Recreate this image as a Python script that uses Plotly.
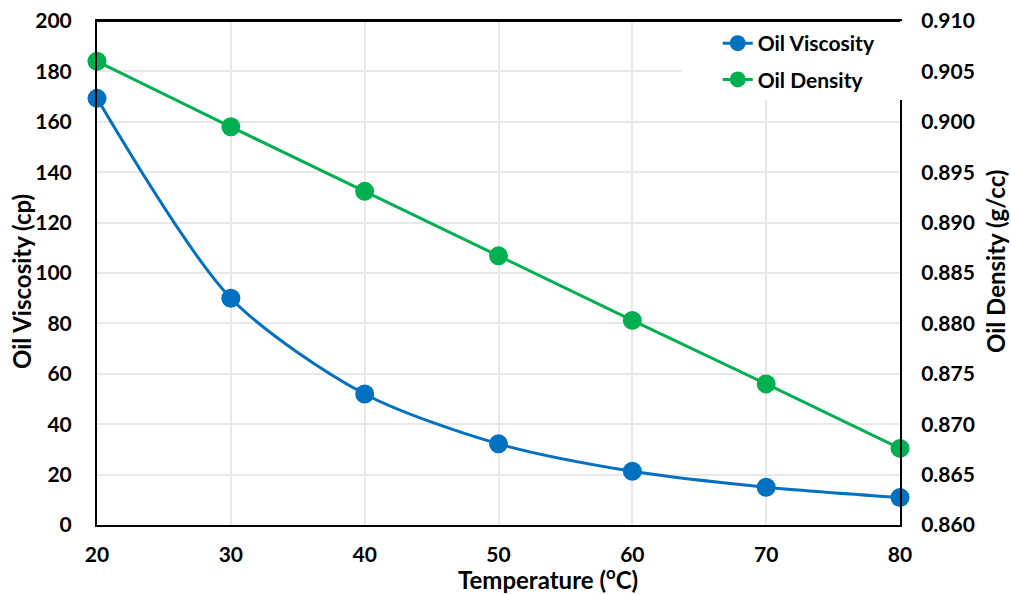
import plotly.graph_objects as go

# Temperature sweep and measured oil properties
temperature_c = [20, 30, 40, 50, 60, 70, 80]
oil_viscosity_cp = [169.3, 90.0, 52.0, 32.2, 21.3, 15.0, 10.9]
oil_density_gcc = [0.9060, 0.8995, 0.8931, 0.8867, 0.8803, 0.8740, 0.8676]

viscosity_ticks = [0, 20, 40, 60, 80, 100, 120, 140, 160, 180, 200]
density_ticks = [0.860, 0.865, 0.870, 0.875, 0.880, 0.885, 0.890, 0.895, 0.900, 0.905, 0.910]

BLUE = "#0070C0"
GREEN = "#00B050"
FONT = "Lato"

# plot-area geometry in pixels (used to place titles in paper coords)
PL, PR, PT, PB = 97, 900, 21, 525


def px_x(x):
    return (x - PL) / (PR - PL)


def px_y(y):
    return (PB - y) / (PB - PT)


fig = go.Figure()

fig.add_trace(go.Scatter(
    x=temperature_c, y=oil_viscosity_cp, name="Oil Viscosity",
    mode="lines+markers", legendgroup="visc",
    line=dict(color=BLUE, width=3, shape="spline", smoothing=0.8),
    marker=dict(color=BLUE, size=19),
    cliponaxis=False,
))
fig.add_trace(go.Scatter(
    x=temperature_c, y=oil_density_gcc, name="Oil Density",
    mode="lines+markers", yaxis="y2", legendgroup="dens",
    line=dict(color=GREEN, width=3),
    marker=dict(color=GREEN, size=19),
    cliponaxis=False,
))

tick_font = dict(family=FONT, size=21, color="#000000", weight="bold")
title_font = dict(family=FONT, size=24, color="#000000", weight="bold")

fig.update_layout(
    width=1011, height=595,
    margin=dict(l=PL, r=1011 - PR, t=PT, b=595 - PB, autoexpand=False),
    paper_bgcolor="white", plot_bgcolor="white",
    font=dict(family=FONT, color="#000000"),
    showlegend=True,
    legend=dict(
        x=0.773, y=0.996, xanchor="left", yanchor="top",
        bgcolor="rgba(0,0,0,0)",
        font=dict(family=FONT, size=21, color="#000000", weight="bold"),
        tracegroupgap=6, itemsizing="trace",
    ),
    xaxis=dict(
        range=[20, 80], tickvals=temperature_c, showgrid=True,
        gridcolor="#E8E8E8", gridwidth=1.5, automargin=False,
        showline=True, linecolor="#000000", linewidth=2, mirror=True,
        ticks="", tickfont=tick_font, ticklabelstandoff=10,
        zeroline=False,
    ),
    yaxis=dict(
        range=[0, 200], tickvals=viscosity_ticks, showgrid=True,
        gridcolor="#E8E8E8", gridwidth=1.5, automargin=False,
        showline=True, linecolor="#000000", linewidth=2,
        ticks="", tickfont=tick_font, ticklabelstandoff=19,
        zeroline=False,
    ),
    yaxis2=dict(
        range=[0.860, 0.910], tickvals=density_ticks, tickformat=".3f",
        overlaying="y", side="right", showgrid=False, automargin=False,
        showline=True, linecolor="#000000", linewidth=2,
        ticks="", tickfont=tick_font, ticklabelstandoff=15,
        zeroline=False,
    ),
    annotations=[
        dict(text="Temperature (<sup>o</sup>C)", xref="paper", yref="paper",
             x=px_x(548), y=px_y(578), xanchor="center", yanchor="middle",
             showarrow=False, font=title_font, borderpad=0),
        dict(text="Oil Viscosity (cp)", xref="paper", yref="paper",
             x=px_x(22), y=px_y(282), xanchor="center", yanchor="middle",
             textangle=-90, showarrow=False, font=title_font),
        dict(text="Oil Density (g/cc)", xref="paper", yref="paper",
             x=px_x(995), y=px_y(262), xanchor="center", yanchor="middle",
             textangle=-90, showarrow=False, font=title_font),
    ],
    shapes=[
        # white legend panel over the upper-right corner of the plot
        dict(type="rect", xref="paper", yref="paper",
             x0=px_x(682), x1=1.004, y0=px_y(100), y1=1.0,
             fillcolor="white", line=dict(width=0), layer="above"),
        # top frame line redrawn across the panel
        dict(type="line", xref="paper", yref="paper",
             x0=0, x1=1.0, y0=1.0, y1=1.0,
             line=dict(color="#000000", width=2), layer="above"),
    ],
)

fig.write_html("out.html")
